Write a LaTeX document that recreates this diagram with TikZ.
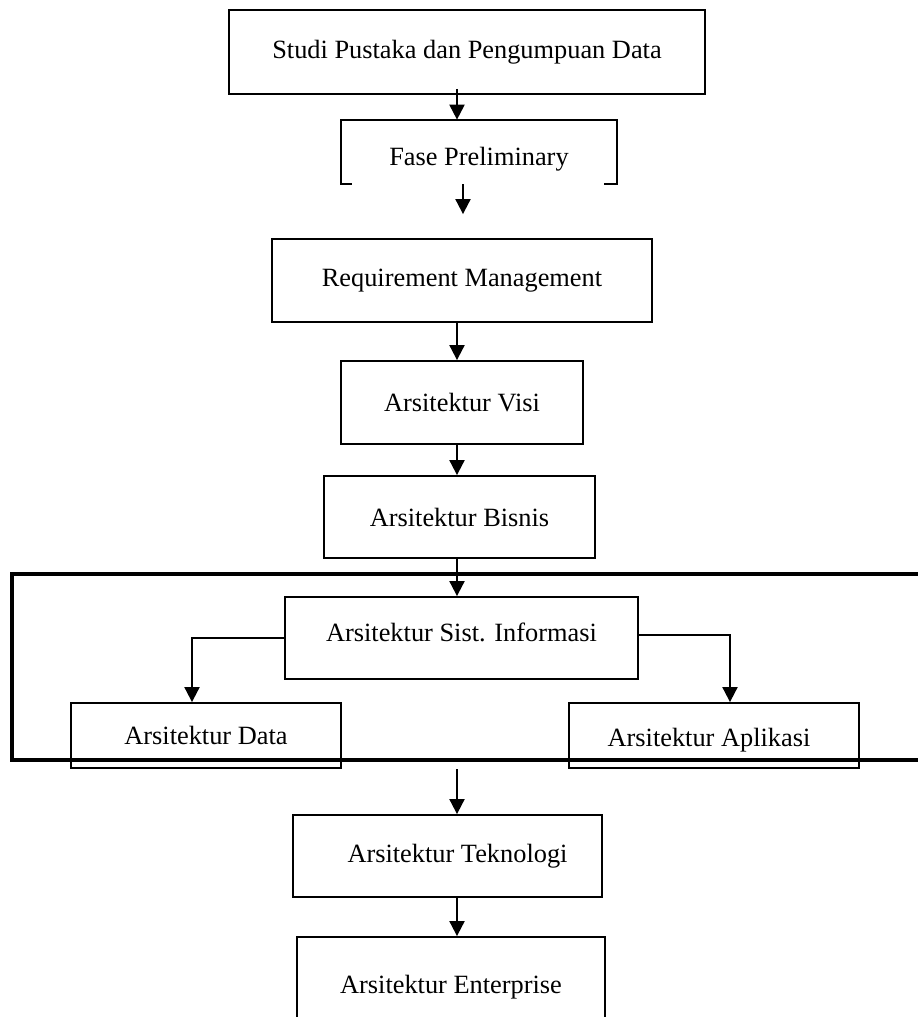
\documentclass[tikz,border=0pt]{standalone}
\usepackage{fontspec}
\setmainfont{Liberation Serif}
\usetikzlibrary{arrows.meta}

\begin{document}
\begin{tikzpicture}[x=0.02cm, y=-0.02cm,
	every node/.style={font=\fontsize{15}{18}\selectfont},
	box/.style={draw, line width=1.05pt, inner sep=0pt},
	frame/.style={draw, line width=2.4pt, inner sep=0pt},
	arrow/.style={line width=1.1pt, -{Triangle[length=0.3cm, width=0.3cm]}}] % coordinates in pixels

	\useasboundingbox (0,0) rectangle (918,1017);
	\clip (0,0) rectangle (918,1017);

	\coordinate (ax) at (457,0);
	\coordinate (bx) at (463,0);

	\node[box, minimum width=9.52cm, minimum height=1.68cm] (studi) at (467,52) {Studi Pustaka dan Pengumpuan Data};
	\node[minimum width=5.52cm, minimum height=1.28cm, inner sep=0pt, text height=0.67cm] (fase) at (479,152) {Fase Preliminary};
	\node[box, minimum width=7.6cm, minimum height=1.66cm] (req) at (462,280.5) {Requirement Management};
	\node[box, minimum width=4.84cm, minimum height=1.66cm] (visi) at (462,402.5) {Arsitektur Visi};
	\node[box, minimum width=5.42cm, minimum height=1.64cm] (bisnis) at (459.5,517) {Arsitektur Bisnis};

	% system information block
	\node[frame, minimum width=18.26cm, minimum height=3.72cm] (frame) at (468.5,667) {};
	\node[box, minimum width=7.06cm, minimum height=1.64cm, text depth=0.24cm] (sist) at (461.5,638) {Arsitektur Sist. Informasi};
	\node[box, minimum width=5.4cm, minimum height=1.3cm] (data) at (206,735.5) {Arsitektur Data};
	\node[box, minimum width=5.8cm, minimum height=1.3cm, text height=0.55cm] (apl) at (714,735.5) {\hspace*{-0.2cm}Arsitektur Aplikasi};

	\node[box, minimum width=6.18cm, minimum height=1.64cm] (tek) at (447.5,856) {\hspace*{0.4cm}Arsitektur Teknologi};
	\node[box, minimum width=6.16cm, minimum height=2cm] (ent) at (451,987) {Arsitektur Enterprise};

	% open bottom edge of fase box
	\draw[line width=1.05pt] ([xshift=0.22cm]fase.south west) -- (fase.south west) -- (fase.north west)
		-- (fase.north east) -- (fase.south east) -- ([xshift=-0.26cm]fase.south east);

	\draw[arrow] ([yshift=0.12cm]studi.south -| ax) -- (fase.north -| ax);
	\draw[arrow, shorten >=0.48cm] (fase.south -| bx) -- (req.north -| bx);
	\draw[arrow] (req.south -| ax) -- (visi.north -| ax);
	\draw[arrow] (visi.south -| ax) -- (bisnis.north -| ax);
	\draw[arrow] (bisnis.south -| ax) -- (sist.north -| ax);
	\draw[arrow] (sist.west) -| ([xshift=-0.28cm]data.north);
	\draw[arrow] ([yshift=0.06cm]sist.east) -| ([xshift=0.32cm]apl.north);
	\draw[arrow, shorten <=0.14cm] (frame.south -| ax) -- (tek.north -| ax);
	\draw[arrow] (tek.south -| ax) -- (ent.north -| ax);

\end{tikzpicture}
\end{document}
